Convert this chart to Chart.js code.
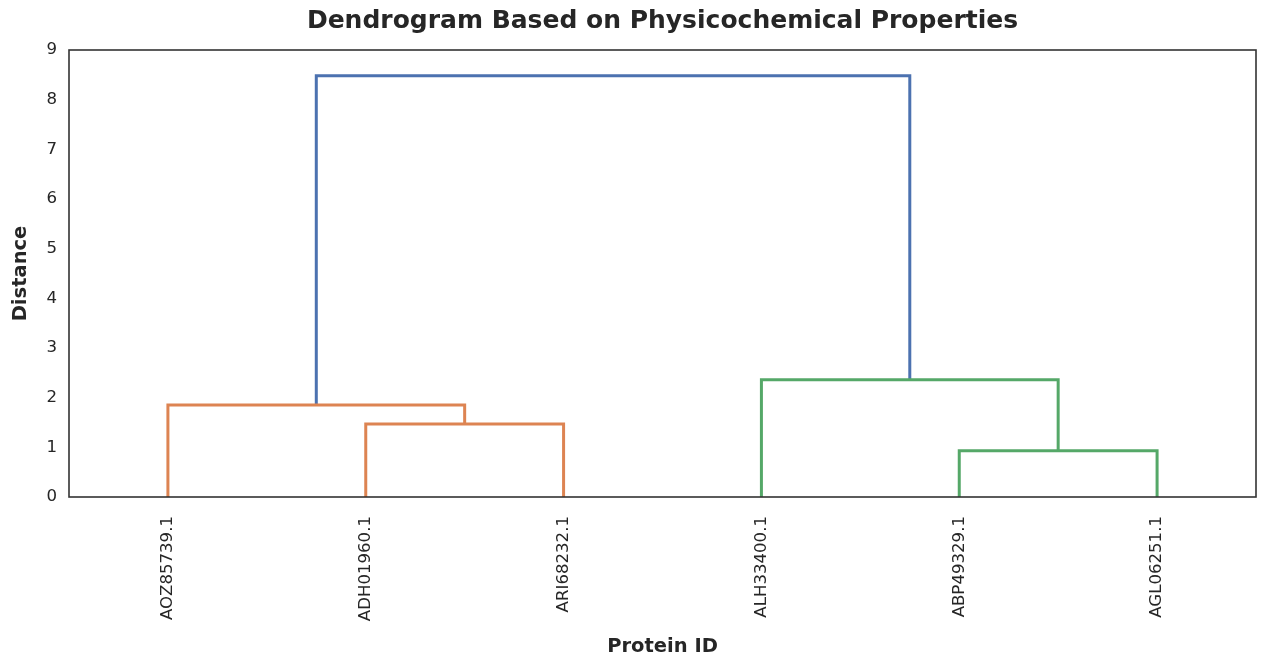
<!DOCTYPE html>
<html>
<head>
<meta charset="utf-8">
<script src="https://cdn.jsdelivr.net/npm/chart.js@4"></script>
<style>
html,body{margin:0;padding:0;background:#fff;}
#wrap{width:1265px;height:665px;}
</style>
</head>
<body>
<div id="wrap"><canvas id="c" width="1265" height="665"></canvas></div>
<script>
// Leaf labels (in dendrogram order) and their positions on the x axis
const leafLabels = ['AOZ85739.1','ADH01960.1','ARI68232.1','ALH33400.1','ABP49329.1','AGL06251.1'];
const leafPositions = [5, 15, 25, 35, 45, 55];
const yTicks = [0,1,2,3,4,5,6,7,8,9];

// Link coordinates (scipy-style icoord / dcoord)
const linkX1 = [15, 15, 25, 25];
const linkY1 = [0, 1.47, 1.47, 0];
const linkX2 = [5, 5, 20, 20];
const linkY2 = [0, 1.85, 1.85, 1.47];
const linkX3 = [45, 45, 55, 55];
const linkY3 = [0, 0.93, 0.93, 0];
const linkX4 = [35, 35, 50, 50];
const linkY4 = [0, 2.36, 2.36, 0.93];
const linkX5 = [12.5, 12.5, 42.5, 42.5];
const linkY5 = [1.85, 8.48, 8.48, 2.36];

const linkColors = ['#dd8452','#dd8452','#55a868','#55a868','#4c72b0'];
const links = [[linkX1,linkY1],[linkX2,linkY2],[linkX3,linkY3],[linkX4,linkY4],[linkX5,linkY5]];

const FONT = "'DejaVu Sans', sans-serif";
const TXT = '#262626';

const datasets = links.map((l, i) => ({
  data: l[0].map((x, k) => ({x: x, y: l[1][k]})),
  showLine: true,
  borderColor: linkColors[i],
  backgroundColor: linkColors[i],
  borderWidth: 3,
  pointRadius: 0,
  pointHoverRadius: 0,
  borderJoinStyle: 'miter',
  borderCapStyle: 'butt',
  tension: 0,
  fill: false
}));

const framePlugin = {
  id: 'frame',
  afterDatasetsDraw(chart) {
    const a = chart.chartArea, ctx = chart.ctx;
    ctx.save();
    ctx.strokeStyle = '#333333';
    ctx.lineWidth = 1.6;
    ctx.strokeRect(a.left, a.top, a.right - a.left, a.bottom - a.top);
    ctx.restore();
  }
};

new Chart(document.getElementById('c'), {
  type: 'scatter',
  data: { datasets: datasets },
  options: {
    responsive: false,
    animation: false,
    layout: { padding: { left: 0, right: 9, top: 0, bottom: 0 } },
    plugins: {
      legend: { display: false },
      tooltip: { enabled: false },
      title: {
        display: true,
        fullSize: false,
        text: 'Dendrogram Based on Physicochemical Properties',
        color: TXT,
        font: { family: FONT, size: 25, weight: 'bold' },
        padding: { top: 6, bottom: 14 }
      }
    },
    scales: {
      x: {
        type: 'linear',
        min: 0,
        max: 60,
        grid: { display: false, drawTicks: false },
        border: { display: false },
        afterBuildTicks(scale) { scale.ticks = leafPositions.map(v => ({ value: v })); },
        afterFit(scale) { scale.height = 168; },
        ticks: {
          autoSkip: false,
          maxRotation: 90,
          minRotation: 90,
          padding: 19,
          color: TXT,
          font: { family: FONT, size: 16.6 },
          callback(value) {
            const i = leafPositions.indexOf(value);
            return i >= 0 ? leafLabels[i] : '';
          }
        },
        title: {
          display: true,
          text: 'Protein ID',
          color: TXT,
          font: { family: FONT, size: 19.5, weight: 'bold' },
          padding: { top: 4, bottom: 6 }
        }
      },
      y: {
        type: 'linear',
        min: 0,
        max: 9,
        grid: { display: false, drawTicks: false },
        border: { display: false },
        afterBuildTicks(scale) { scale.ticks = yTicks.map(v => ({ value: v })); },
        afterFit(scale) { scale.width = 69; },
        ticks: {
          padding: 12,
          color: TXT,
          font: { family: FONT, size: 16.6 }
        },
        title: {
          display: true,
          text: 'Distance',
          color: TXT,
          font: { family: FONT, size: 19.5, weight: 'bold' },
          padding: { top: 9, bottom: 4 }
        }
      }
    }
  },
  plugins: [framePlugin]
});
</script>
</body>
</html>
